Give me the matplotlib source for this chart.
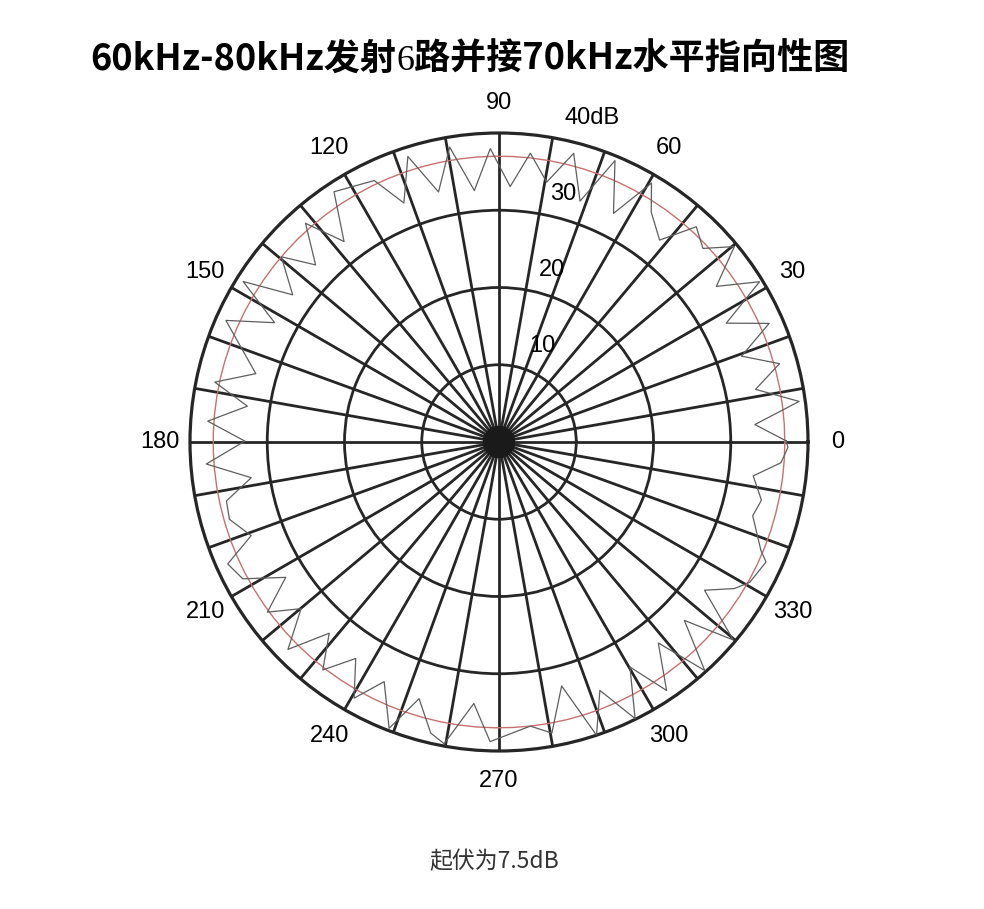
import numpy as np
import matplotlib
matplotlib.use('Agg')
import matplotlib.pyplot as plt

angles = [0.2, 3.9, 7.7, 11.6, 15.6, 19.5, 23.7, 27.6, 31.6, 35.6,
          39.7, 43.5, 47.5, 51.5, 56.5, 59.5, 63.4, 67.6, 71.4, 75.5,
          79.6, 83.8, 87.5, 91.7, 95.6, 99.5, 103.6, 107.7, 111.7, 115.5,
          123.4, 127.7, 131.5, 136.0, 139.6, 144.5, 147.9, 152.0, 156.0, 164.3,
          168.1, 171.9, 175.9, 179.8, 184.3, 188.2, 192.2, 196.0, 200.7, 204.2,
          208.1, 212.4, 216.3, 220.1, 224.5, 228.4, 232.3, 236.5, 240.5, 244.4,
          249.0, 252.7, 256.8, 259.7, 264.5, 268.3, 276.3, 280.3, 284.4, 288.4,
          292.1, 296.2, 300.2, 304.0, 308.4, 312.0, 316.1, 319.8, 324.2, 328.1,
          330.8, 335.8, 337.5, 343.8, 347.5, 352.4, 355.8, 358.9]
levels = [37.2, 33.2, 39.2, 33.9, 37.7, 33.3, 38.2, 33.2, 39.6, 34.6,
          39.6, 36.4, 37.8, 33.4, 35.7, 38.9, 33.1, 39.4, 32.9, 38.6,
          34.2, 37.6, 33.1, 38.0, 32.7, 38.7, 33.3, 38.8, 33.3, 37.5,
          38.8, 32.8, 37.8, 33.0, 37.0, 32.8, 39.1, 32.9, 38.7, 32.7,
          37.6, 32.9, 37.8, 32.9, 38.0, 32.4, 36.1, 36.3, 34.3, 38.5,
          37.6, 32.7, 37.2, 33.5, 38.3, 33.1, 37.3, 33.6, 38.1, 34.4,
          39.7, 34.8, 38.7, 39.7, 34.0, 38.8, 37.0, 38.3, 32.6, 40.0,
          34.7, 39.9, 33.7, 38.8, 33.2, 39.8, 33.3, 39.7, 32.8, 35.9,
          37.2, 37.9, 36.7, 34.2, 34.8, 33.2, 36.6, 37.4]
ref_level = 37.0

rings = [10, 20, 30]
r_max = 40
ring_text = ['10', '20', '30', '40dB']
ring_text_pos = [(65.9, 13.6), (73.0, 23.3), (75.4, 33.2), (74.0, 43.6)]
angle_ticks = list(range(0, 360, 30))

dark = '#262626'
num_font = ['Liberation Sans', 'DejaVu Sans']
cjk_font = ['Noto Sans CJK SC', 'DejaVu Sans']

# polar area: centre (499, 442) px, radius 309 px
W, H = 984, 909
cx, cy, rad = 499, 442, 309
fig = plt.figure(figsize=(W / 100, H / 100), dpi=100)
ax = fig.add_axes([(cx - rad) / W, (H - cy - rad) / H, 2 * rad / W, 2 * rad / H],
                  projection='polar')

ax.set_rlim(0, r_max)
ax.set_thetagrids(np.arange(0, 360, 10), labels=[''] * 36)
ax.set_rgrids(rings, labels=[''] * len(rings))
ax.grid(True, color=dark, linewidth=2.0)
ax.spines['polar'].set_color(dark)
ax.spines['polar'].set_linewidth(2.3)
ax.tick_params(length=0)

# black hub where the spokes meet
hub = np.linspace(0, 2 * np.pi, 100)
ax.fill(hub, np.full(100, 2.0), color='#1a1a1a', zorder=3)

# reference circle (red) and measured curve (grey)
ax.plot(hub, np.full(100, ref_level), color='#c87070', linewidth=1.0, zorder=4)
th = np.deg2rad(angles + [angles[0]])
ax.plot(th, levels + [levels[0]], color='#5e5e5e', linewidth=0.9, zorder=5)

for a in angle_ticks:
    ax.text(np.deg2rad(a), 43.9, str(a), ha='center', va='center',
            fontsize=17, family=num_font, color='black')

for txt, (a, r) in zip(ring_text, ring_text_pos):
    ax.text(np.deg2rad(a), r, txt, ha='center', va='center',
            fontsize=17, family=num_font, color='black', zorder=6)

# title: the "6" in the original is set in a serif face
pieces = [('60kHz-80kHz发射', cjk_font, 'bold'),
          ('6', ['Liberation Serif', 'DejaVu Serif'], 'normal'),
          ('路并接70kHz水平指向性图', cjk_font, 'bold')]
fig.canvas.draw()
renderer = fig.canvas.get_renderer()
x = 90
for s, fam, wt in pieces:
    t = fig.text(x / W, 1 - 70 / H, s, ha='left', va='baseline',
                 fontsize=26, family=fam, fontweight=wt, color='black')
    x = t.get_window_extent(renderer).x1

fig.text(494 / W, 1 - 862 / H, '起伏为7.5dB', ha='center', va='center',
         fontsize=16.5, family=cjk_font, color='#333333')

fig.savefig('out.png', dpi=100)
